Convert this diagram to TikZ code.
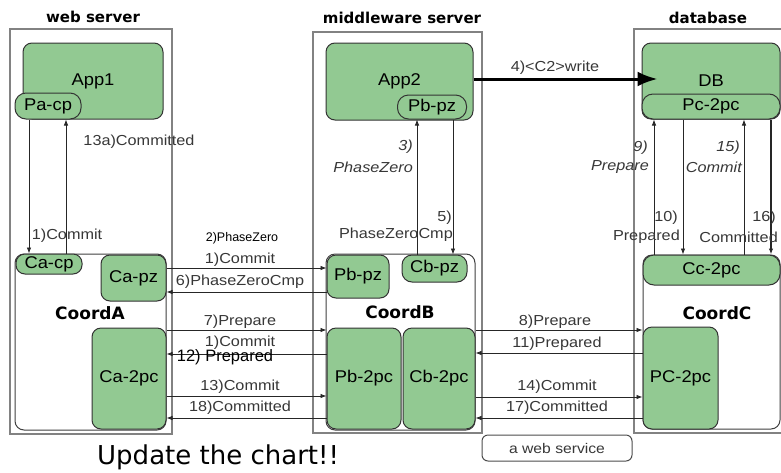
\documentclass[tikz,border=0pt]{standalone}
\usepackage{fontspec}
\setmainfont{Liberation Sans}
\newfontfamily\lblfont[FakeStretch=1.12]{Liberation Sans}
\newfontfamily\boxfont[FakeStretch=1.08]{Liberation Sans}
\newfontfamily\headfont{DejaVu Sans}
\usetikzlibrary{arrows.meta,calc}

\definecolor{boxgreen}{RGB}{146,201,146}
\definecolor{framegray}{RGB}{130,130,130}
\definecolor{lblgray}{RGB}{55,55,55}

\tikzset{
  tier/.style={draw=framegray, line width=1.5pt},
  comp/.style={draw=black!80, fill=boxgreen, line width=1pt, rounded corners=9pt,
    inner sep=0pt, font=\boxfont\fontsize{17}{20}\selectfont},
  coordbox/.style={draw=black!75, fill=white, line width=1pt, rounded corners=9pt, inner sep=0pt},
  title/.style={font=\headfont\bfseries\fontsize{15}{18}\selectfont},
  coordname/.style={font=\headfont\bfseries\fontsize{17}{20}\selectfont},
  msg/.style={font=\lblfont\fontsize{14.5}{17}\selectfont, text=lblgray, inner sep=0pt},
  msgit/.style={font=\lblfont\itshape\fontsize{14.5}{17}\selectfont, text=lblgray, inner sep=0pt},
  flow/.style={draw=black!85, line width=0.8pt, -{Latex[length=6pt,width=4.5pt]}},
  bigflow/.style={draw=black, line width=3pt, -{Latex[length=20pt,width=15pt]}},
}

\begin{document}
\begin{tikzpicture}[x=1pt, y=-1pt]
\useasboundingbox (0,0) rectangle (781,472);

% tiers
\node[title] (webtitle) at (93,17) {web server};
\node[title] (midtitle) at (402,18) {middleware server};
\node[title] (dbtitle) at (708,18) {database};
\draw[tier] (10,29) rectangle (172,434);
\draw[tier] (313,32) rectangle (482,433);
\draw[tier] (634,29) rectangle (795,433);

% application level
\node[comp, minimum width=140pt, minimum height=76pt] (app1) at (93,81) {App1};
\node[comp, rounded corners=11pt, minimum width=66pt, minimum height=26pt] (pacp) at (48,106) {Pa-cp};
\node[comp, minimum width=147pt, minimum height=77pt] (app2) at (399.5,81.5) {App2};
\node[comp, rounded corners=11pt, minimum width=69pt, minimum height=24pt] (pbpzA) at (432,107) {Pb-pz};
\node[comp, minimum width=138pt, minimum height=76pt] (db) at (711,81) {DB};
\node[comp, rounded corners=11pt, minimum width=138pt, minimum height=25pt] (pc2pcA) at (711,106.5) {Pc-2pc};

% coordinators
\node[coordbox, minimum width=151pt, minimum height=176pt] (coordA) at (90.5,342) {};
\node[coordbox, minimum width=149pt, minimum height=176pt] (coordB) at (400.5,342) {};
\node[coordbox, minimum width=137pt, minimum height=174pt] (coordC) at (711.5,342) {};
\node[coordname] (coordAname) at (90,313) {CoordA};
\node[coordname] (coordBname) at (400,312) {CoordB};
\node[coordname] (coordCname) at (717,313) {CoordC};

\node[comp, rounded corners=9pt, minimum width=66pt, minimum height=20pt] (capp) at (49,264) {Ca-cp};
\node[comp, minimum width=65pt, minimum height=46pt] (capz) at (133.5,278) {Ca-pz};
\node[comp, minimum width=74pt, minimum height=101pt] (ca2pc) at (129,378.5) {Ca-2pc};
\node[comp, minimum width=62pt, minimum height=43pt] (pbpzB) at (358,276.5) {Pb-pz};
\node[comp, rounded corners=10pt, minimum width=65pt, minimum height=27pt] (cbpz) at (434.5,268.5) {Cb-pz};
\node[comp, minimum width=74pt, minimum height=101pt] (pb2pc) at (364,378.5) {Pb-2pc};
\node[comp, minimum width=72pt, minimum height=101pt] (cb2pc) at (439,378.5) {Cb-2pc};
\node[comp, rounded corners=11pt, minimum width=137pt, minimum height=30pt] (cc2pc) at (711.5,270) {Cc-2pc};
\node[comp, minimum width=75pt, minimum height=102pt] (pc2pcC) at (680.5,378) {PC-2pc};

\node[draw=black!70, line width=1pt, rounded corners=6pt, minimum width=150pt, minimum height=26pt,
  font=\lblfont\fontsize{14}{16}\selectfont, text=lblgray] (websvc) at (557,448) {a web service};
\node[anchor=base west, inner sep=0pt, font=\headfont\fontsize{26}{30}\selectfont] (note) at (97,464) {Update the chart!!};

% write to the database
\coordinate (dbin) at ($(db.west)+(16,-2)$);
\draw[bigflow] (app2.east |- dbin) -- (dbin);
\node[msg] (m4) at (555,68) {4)<C2>write};

% web server: app <-> coordinator
\draw[flow] (pacp.south -| 29,0) -- (capp.north -| 29,0);
\draw[flow] (capp.north -| 66,0) -- (pacp.south -| 66,0);
\node[msg] (m13a) at (139,142) {13a)Committed};
\node[msg] (m1a) at (67,236) {1)Commit};

% middleware: app <-> coordinator
\draw[flow] (cbpz.north -| 417,0) -- (pbpzA.south -| 417,0);
\draw[flow] (pbpzA.south -| 453,0) -- (cbpz.north -| 453,0);
\node[msgit, anchor=east] (m3) at (413,147) {3)};
\node[msgit, anchor=east] (m3b) at (413,167) {PhaseZero};
\node[msg, anchor=east] (m5) at (452,218) {5)};
\node[msg, anchor=east] (m5b) at (453,235) {PhaseZeroCmp};

% database: resource <-> coordinator
\draw[flow] (cc2pc.north -| 654,0) -- (pc2pcA.south -| 654,0);
\draw[flow] (pc2pcA.south -| 683,0) -- (cc2pc.north -| 683,0);
\draw[flow] (cc2pc.north -| 744,0) -- (pc2pcA.south -| 744,0);
\draw[flow, line width=1.4pt] (pc2pcA.south -| 771,0) -- (cc2pc.north -| 771,0);
\node[msgit, anchor=east] (m9) at (648,148) {9)};
\node[msgit, anchor=east] (m9b) at (649,167) {Prepare};
\node[msg, anchor=east] (m10) at (678,218) {10)};
\node[msg, anchor=east] (m10b) at (680,237) {Prepared};
\node[msgit, anchor=east] (m15) at (740,148) {15)};
\node[msgit, anchor=east] (m15b) at (742,167) {Commit};
\node[msg, anchor=east] (m16) at (776,218) {16)};
\node[msg, anchor=east] (m16b) at (778,237) {Committed};

% CoordA <-> CoordB
\draw[flow] (capz.east |- 0,268) -- (pbpzB.west |- 0,268);
\draw[flow] (pbpzB.west |- 0,292) -- (capz.east |- 0,292);
\draw[flow] (ca2pc.east |- 0,330) -- (pb2pc.west |- 0,330);
\draw[flow] (pb2pc.west |- 0,354) -- (ca2pc.east |- 0,354);
\draw[flow] (ca2pc.east |- 0,396) -- (pb2pc.west |- 0,396);
\draw[flow] (pb2pc.west |- 0,418) -- (ca2pc.east |- 0,418);
\node[inner sep=0pt, font=\fontsize{12.5}{14}\selectfont] (m2) at (242,238) {2)PhaseZero};
\node[msg] (m1b) at (240,260) {1)Commit};
\node[msg] (m6) at (240,282) {6)PhaseZeroCmp};
\node[msg] (m7) at (240,322) {7)Prepare};
\node[msg] (m1c) at (240,343) {1)Commit};
\node[inner sep=0pt, font=\fontsize{16.5}{18}\selectfont] (m12) at (225,357) {12) Prepared};
\node[msg] (m13) at (240,387) {13)Commit};
\node[msg] (m18) at (240,408) {18)Committed};

% CoordB <-> CoordC
\draw[flow] (cb2pc.east |- 0,330) -- (pc2pcC.west |- 0,330);
\draw[flow] (pc2pcC.west |- 0,353) -- (cb2pc.east |- 0,353);
\draw[flow] (cb2pc.east |- 0,397) -- (pc2pcC.west |- 0,397);
\draw[flow] (pc2pcC.west |- 0,418) -- (cb2pc.east |- 0,418);
\node[msg] (m8) at (555,322) {8)Prepare};
\node[msg] (m11) at (557,344) {11)Prepared};
\node[msg] (m14) at (557,387) {14)Commit};
\node[msg] (m17) at (557,408) {17)Committed};
\end{tikzpicture}
\end{document}
